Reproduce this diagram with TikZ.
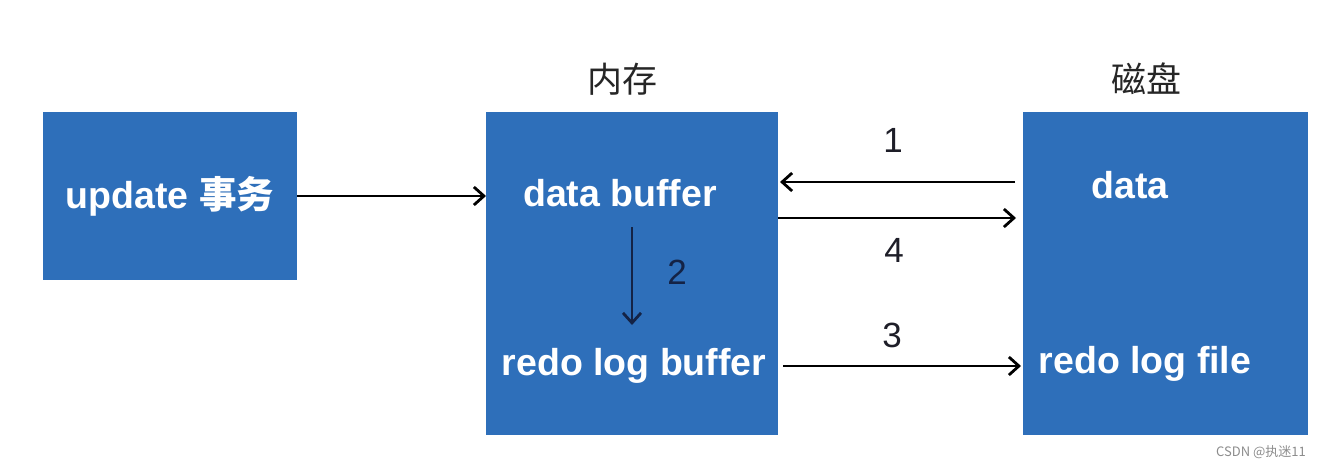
\documentclass[tikz,border=0pt]{standalone}
\usepackage{fontspec}
\setmainfont{Liberation Sans}
\newfontfamily\cjk{Noto Sans CJK SC}
\usetikzlibrary{arrows.meta}
\definecolor{boxblue}{RGB}{46,111,186}
\definecolor{numcol}{RGB}{30,30,40}
\definecolor{navy}{RGB}{20,35,70}
\tikzset{
  bluebox/.style={fill=boxblue, draw=none, inner sep=0pt, outer sep=0pt},
  intext/.style={text=white, font=\fontsize{37.5}{41}\selectfont\bfseries, inner sep=0pt, anchor=base},
  toplabel/.style={text=black!85, font=\cjk\fontsize{35}{38}\selectfont, inner sep=0pt},
  numlabel/.style={text=numcol, font=\fontsize{35}{38}\selectfont, inner sep=0pt},
  conn/.style={line width=2.8pt, -{Straight Barb[length=10pt,width=18pt,line width=2.8pt]}},
}
\begin{document}
\begin{tikzpicture}[x=1pt,y=-1pt]
\useasboundingbox (0,0) rectangle (1324,469);
% boxes
\node[bluebox, minimum width=254pt, minimum height=168pt] (upd) at (170,196) {};
\node[bluebox, minimum width=292pt, minimum height=323pt] (mem) at (632,273.5) {};
\node[bluebox, minimum width=285pt, minimum height=323pt] (disk) at (1165.5,273.5) {};
% texts inside
\node[intext] (updtxt) at (170,208) {update {\cjk\bfseries 事务}};
\node[intext] (dbuf) at (620,206) {data buffer};
\node[intext] (rbuf) at (634,375) {redo log buffer};
\node[intext] (ddata) at (1130,198) {data};
\node[intext] (rfile) at (1145,373) {redo log file};
% top labels
\node[toplabel] (memlbl) at (622,79) {内存};
\node[toplabel] (disklbl) at (1146,79) {磁盘};
% numbers
\node[numlabel] (n1) at (893,140) {1};
\node[numlabel] (n4) at (894,250) {4};
\node[numlabel] (n3) at (892,335) {3};
\node[numlabel, text=navy] (n2) at (677,272) {2};
% connector endpoints
\coordinate (a1s) at (1015,182);
\coordinate (a1e) at (780,182);
\coordinate (a4s) at (778,218);
\coordinate (a4e) at (1016,218);
\coordinate (a3s) at (783,366);
\coordinate (a3e) at (1021,366);
\coordinate (a2s) at (632,227);
\coordinate (a2e) at (632,325);
% connectors
\draw[conn] (upd.east) -- (upd.east -| mem.west);
\draw[conn] (a1s) -- (a1e);
\draw[conn] (a4s) -- (a4e);
\draw[conn] (a3s) -- (a3e);
\draw[conn, draw=navy] (a2s) -- (a2e);
% watermark
\node[text=black!45, font=\cjk\fontsize{13}{15}\selectfont, inner sep=0pt] (wm) at (1261,452) {CSDN @执迷11};
\end{tikzpicture}
\end{document}
